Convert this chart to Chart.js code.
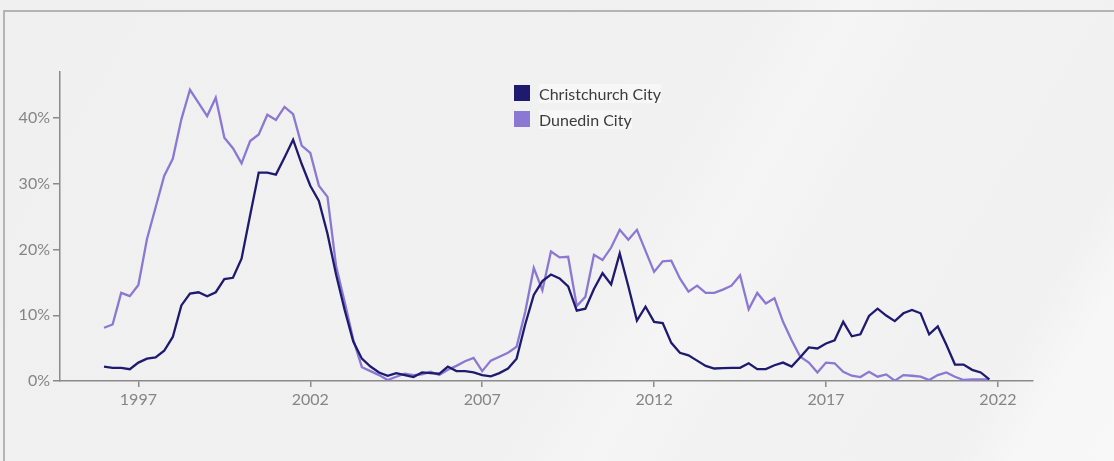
<!DOCTYPE html>
<html>
<head>
<meta charset="utf-8">
<script src="https://cdn.jsdelivr.net/npm/chart.js@4/dist/chart.umd.min.js"></script>
<style>
  html, body { margin: 0; padding: 0; }
  body {
    width: 1114px; height: 461px; overflow: hidden; position: relative;
    background: linear-gradient(120deg, #f0f0f0 0%, #f1f1f1 55%, #f5f5f5 62%, #f2f2f2 70%, #f1f1f1 88%, #f7f7f7 93%, #f8f8f8 100%);
    font-family: Lato, "Open Sans", sans-serif;
  }
  .card {
    position: absolute; left: 3px; top: 10px; right: 0; bottom: 0;
    border-top: 2px solid #b4b4b4; border-left: 2px solid #b4b4b4;
  }
  #chart { position: absolute; left: 0; top: 0; }
  .legend { position: absolute; left: 514px; top: 80px; font-size: 16px; color: #3c3c3c; }
  .legend div { display: flex; align-items: center; height: 26px; }
  .legend span.box { width: 16px; height: 16px; margin-right: 9px; display: inline-block; }
  .legend span.txt { background: rgba(255,255,255,0.45); }
</style>
</head>
<body>
<div class="card"></div>
<canvas id="chart" width="1114" height="461"></canvas>
<div class="legend">
  <div><span class="box" style="background:#1e1a6f"></span><span class="txt">Christchurch City</span></div>
  <div><span class="box" style="background:#8b78d3"></span><span class="txt">Dunedin City</span></div>
</div>
<script>
// quarterly series, Q1 1996 .. Q4 2021 (percent)
const startYear = 1996;
const christchurch = [
  2.2, 2.0, 2.0, 1.8, 2.8, 3.4, 3.6, 4.6, 6.7, 11.5, 13.3, 13.5, 12.9, 13.5, 15.5, 15.7,
  18.6, 25.2, 31.7, 31.7, 31.4, 34.0, 36.7, 33.0, 29.7, 27.4, 22.4, 16.2, 10.8, 6.0, 3.4, 2.2,
  1.3, 0.8, 1.2, 0.9, 0.6, 1.3, 1.2, 1.1, 2.2, 1.5, 1.5, 1.3, 0.9, 0.7, 1.2, 1.9,
  3.4, 8.6, 13.1, 15.2, 16.2, 15.6, 14.4, 10.7, 11.0, 14.0, 16.4, 14.7, 19.4, 14.4, 9.2, 11.3,
  9.0, 8.8, 5.8, 4.3, 3.9, 3.1, 2.3, 1.9, 1.95, 2.0, 2.0, 2.7, 1.8, 1.8, 2.4, 2.8,
  2.2, 3.6, 5.1, 4.95, 5.7, 6.2, 9.0, 6.8, 7.1, 9.9, 11.0, 9.95, 9.1, 10.3, 10.8, 10.3,
  7.1, 8.3, 5.5, 2.5, 2.5, 1.7, 1.3, 0.25
];
const dunedin = [
  8.1, 8.6, 13.4, 12.9, 14.6, 21.6, 26.4, 31.2, 33.8, 39.8, 44.3, 42.3, 40.3, 43.1, 37.0, 35.4,
  33.1, 36.5, 37.5, 40.5, 39.7, 41.7, 40.6, 35.8, 34.7, 29.7, 28.0, 17.5, 12.0, 6.3, 2.1, 1.5,
  0.9, 0.15, 0.65, 1.1, 0.9, 1.0, 1.4, 0.9, 1.7, 2.3, 3.0, 3.5, 1.5, 3.1, 3.7, 4.3,
  5.2, 10.5, 17.2, 13.8, 19.7, 18.8, 18.9, 11.4, 12.8, 19.2, 18.4, 20.3, 23.0, 21.5, 23.0, 19.8,
  16.6, 18.2, 18.3, 15.6, 13.6, 14.5, 13.4, 13.4, 13.9, 14.5, 16.1, 10.9, 13.4, 11.8, 12.6, 9.0,
  6.2, 3.7, 2.8, 1.3, 2.8, 2.7, 1.4, 0.8, 0.6, 1.4, 0.65, 1.0, 0.05, 0.9, 0.8, 0.65,
  0.15, 0.9, 1.3, 0.65, 0.15, 0.25, 0.25, 0.25
];
const yearTicks = [1997, 2002, 2007, 2012, 2017, 2022];
const pctTicks = [0, 10, 20, 30, 40];

const toPoints = arr => arr.map((v, i) => ({ x: startYear + i * 0.25, y: v }));

const tickFont = { family: 'Lato, "Open Sans", sans-serif', size: 16 };

new Chart(document.getElementById('chart'), {
  type: 'line',
  data: {
    datasets: [
      { label: 'Christchurch City', data: toPoints(christchurch), borderColor: '#1e1a6f', borderWidth: 2.3 },
      { label: 'Dunedin City', data: toPoints(dunedin), borderColor: '#8b78d3', borderWidth: 2.3 }
    ]
  },
  options: {
    responsive: false,
    animation: false,
    layout: { padding: { top: 72, right: 81, left: 0, bottom: 0 } },
    elements: { point: { radius: 0 }, line: { tension: 0 } },
    plugins: { legend: { display: false }, tooltip: { enabled: false } },
    scales: {
      x: {
        type: 'linear',
        min: 1994.72,
        max: 2023.02,
        afterBuildTicks: s => { s.ticks = yearTicks.map(v => ({ value: v })); },
        afterFit: s => { s.height = 80; },
        ticks: { color: '#858585', font: tickFont, padding: 3, maxRotation: 0, callback: v => String(v) },
        grid: { drawOnChartArea: false, drawTicks: true, tickLength: 6, color: '#8a8a8a', lineWidth: 1.5 },
        border: { display: true, color: '#8a8a8a', width: 1.5 }
      },
      y: {
        min: 0,
        max: 47,
        afterBuildTicks: s => { s.ticks = pctTicks.map(v => ({ value: v })); },
        afterFit: s => { s.width = 60; },
        ticks: { color: '#858585', font: tickFont, padding: 3, callback: v => v + '%' },
        grid: { drawOnChartArea: false, drawTicks: true, tickLength: 7, color: '#8a8a8a', lineWidth: 1.5 },
        border: { display: true, color: '#8a8a8a', width: 1.5 }
      }
    }
  }
});
</script>
</body>
</html>
